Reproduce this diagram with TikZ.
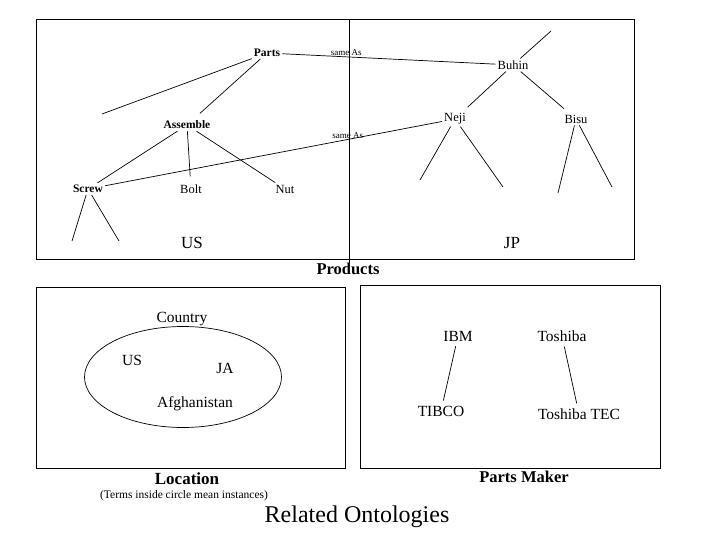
\documentclass[tikz,border=0pt]{standalone}
\usepackage{fontspec}
\setmainfont{Liberation Serif}
\usetikzlibrary{shapes.geometric}
\definecolor{ink}{HTML}{000000}
\tikzset{
  term/.style={font=\fontsize{12.5}{14}\selectfont, inner sep=2pt, text=ink},
  concept/.style={term, font=\fontsize{11.5}{13}\selectfont\bfseries},
  sameas/.style={font=\fontsize{9}{10}\selectfont, inner sep=1pt, text=ink},
  region/.style={font=\fontsize{17}{20}\selectfont, text=ink},
  caption/.style={font=\fontsize{16.5}{19}\selectfont\bfseries, text=ink},
  item/.style={font=\fontsize{15.5}{18}\selectfont, inner sep=2pt, text=ink},
  frame/.style={draw=ink, line width=0.8pt},
  link/.style={draw=ink, line width=0.7pt}
}

\begin{document}
\begin{tikzpicture}[x=1pt, y=-1pt]
  \useasboundingbox (0,0) rectangle (720,540);

  % Products: US / JP
  \draw[frame] (36,19) rectangle (634,259);
  \draw[frame] (349,19) -- (349,263);
  \node[caption] (products) at (348,269) {Products};
  \node[region] (us) at (192,243) {US};
  \node[region] (jp) at (512,243) {JP};

  \node[concept] (parts) at (267,53) {Parts};
  \node[concept] (assemble) at (187,125) {Assemble};
  \node[concept] (screw) at (88,189) {Screw};
  \node[term] (bolt) at (191,189) {Bolt};
  \node[term] (nut) at (285,189) {Nut};
  \node[term] (buhin) at (513,65) {Buhin};
  \node[term] (neji) at (455,119) {Neji};
  \node[term] (bisu) at (576,119) {Bisu};

  \coordinate (partsup) at (102,114);
  \coordinate (buhinup) at (551,31);
  \coordinate (screwa) at (72,241);
  \coordinate (screwb) at (119,241);
  \coordinate (nejia) at (420,180);
  \coordinate (nejib) at (503,187);
  \coordinate (bisua) at (558,193);
  \coordinate (bisub) at (612,187);

  \draw[link] (parts) -- (partsup);
  \draw[link, shorten >=8pt] (parts) -- (assemble);
  \draw[link] (assemble) -- (screw);
  \draw[link, shorten >=6pt] (assemble) -- (bolt);
  \draw[link] (assemble) -- (nut);
  \draw[link] (screw) -- (screwa);
  \draw[link] (screw) -- (screwb);
  \draw[link] (buhin) -- (buhinup);
  \draw[link, shorten >=6pt] (buhin) -- (neji);
  \draw[link, shorten >=6pt] (buhin) -- (bisu);
  \draw[link] (neji) -- (nejia);
  \draw[link] (neji) -- (nejib);
  \draw[link] (bisu) -- (bisua);
  \draw[link] (bisu) -- (bisub);
  \draw[link] (parts) -- node[sameas, above, pos=0.3] {same As} (buhin);
  \draw[link] (neji) -- node[sameas, above, pos=0.28] {same As} (screw);

  % Location
  \draw[frame] (36,287) rectangle (345,468);
  \node[draw=ink, line width=0.7pt, ellipse, minimum width=197, minimum height=101] (countryset) at (183,377) {};
  \node[item] (country) at (182,319) {Country};
  \node[item] (usc) at (132,360) {US};
  \node[item] (ja) at (225,368) {JA};
  \node[item] (afghan) at (195,404) {Afghanistan};
  \node[caption, font=\fontsize{17}{20}\selectfont\bfseries] (location) at (187,479) {Location};
  \node[term, font=\fontsize{11.5}{13}\selectfont] (note) at (184,496) {(Terms inside circle mean instances)};

  % Parts Maker
  \draw[frame] (360,285) rectangle (660,468);
  \node[item] (ibm) at (458,336) {IBM};
  \node[item] (toshiba) at (562,336) {Toshiba};
  \node[item] (tibco) at (441,411) {TIBCO};
  \node[item] (tec) at (579,414) {Toshiba TEC};
  \draw[link, shorten <=3pt, shorten >=3pt] (ibm) -- (tibco);
  \draw[link, shorten <=3pt, shorten >=3pt] (toshiba) -- (tec);
  \node[caption] (maker) at (524,477) {Parts Maker};

  \node[font=\fontsize{24}{28}\selectfont, text=ink] (title) at (357,517) {Related Ontologies};
\end{tikzpicture}
\end{document}
